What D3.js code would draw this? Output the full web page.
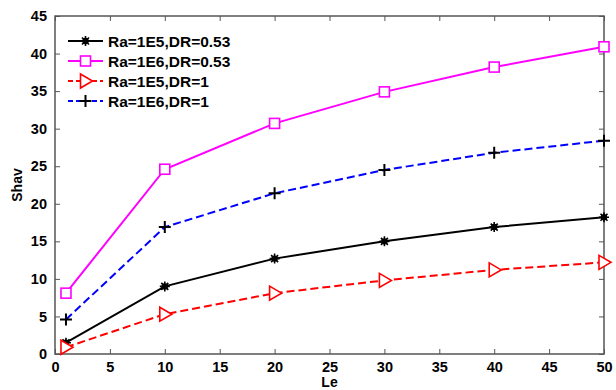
<!DOCTYPE html>
<html>
<head>
<meta charset="utf-8">
<script src="https://cdn.jsdelivr.net/npm/d3@7"></script>
<style>
  html, body { margin: 0; padding: 0; background: #fff; }
  svg text { font-family: "Liberation Sans", Arial, sans-serif; font-weight: bold; }
</style>
</head>
<body>
<svg id="chart" width="616" height="390"></svg>
<script>
// Lewis number values on the x axis
const le = [1, 10, 20, 30, 40, 50];

// Average Sherwood number for each case
const shRa1e5Dr053 = [1.5, 9.0, 12.7, 15.0, 16.9, 18.2];
const shRa1e6Dr053 = [8.1, 24.6, 30.7, 34.9, 38.2, 40.9];
const shRa1e5Dr1   = [0.9, 5.3, 8.1, 9.8, 11.2, 12.2];
const shRa1e6Dr1   = [4.6, 16.9, 21.4, 24.5, 26.8, 28.4];

const seriesNames = ["Ra=1E5,DR=0.53", "Ra=1E6,DR=0.53", "Ra=1E5,DR=1", "Ra=1E6,DR=1"];

const xTicks = [0, 5, 10, 15, 20, 25, 30, 35, 40, 45, 50];
const yTicks = [0, 5, 10, 15, 20, 25, 30, 35, 40, 45];

const series = [
  { name: seriesNames[0], values: shRa1e5Dr053, color: "#000000", dash: null, marker: "star" },
  { name: seriesNames[1], values: shRa1e6Dr053, color: "#ff00ff", dash: null, marker: "square" },
  { name: seriesNames[2], values: shRa1e5Dr1,   color: "#ff0000", dash: "8,4", marker: "triangle" },
  { name: seriesNames[3], values: shRa1e6Dr1,   color: "#0000ff", dash: "8,4", marker: "plus" }
];

const svg = d3.select("#chart");
const m = { left: 55, right: 12, top: 16, bottom: 36 };
const W = 616, H = 390;
const x = d3.scaleLinear().domain([0, 50]).range([m.left, W - m.right]);
const y = d3.scaleLinear().domain([0, 45]).range([H - m.bottom, m.top]);

const axisColor = "#555";
const tickLen = 5;

// Box around the plot area
svg.append("rect")
  .attr("x", x(0)).attr("y", y(45))
  .attr("width", x(50) - x(0)).attr("height", y(0) - y(45))
  .attr("fill", "none").attr("stroke", axisColor).attr("stroke-width", 1.5);

// Inward ticks on all four sides
function styleAxis(g) {
  g.select(".domain").remove();
  g.selectAll(".tick line").attr("stroke", axisColor).attr("stroke-width", 1);
  g.selectAll(".tick text").attr("fill", "#000").style("font-size", "14.5px");
}
svg.append("g").attr("transform", `translate(0,${y(0)})`)
  .call(d3.axisBottom(x).tickValues(xTicks).tickSizeInner(-tickLen).tickSizeOuter(0).tickPadding(8).tickFormat(d3.format("d")))
  .call(styleAxis);
svg.append("g").attr("transform", `translate(0,${y(45)})`)
  .call(d3.axisTop(x).tickValues(xTicks).tickSizeInner(-tickLen).tickSizeOuter(0).tickFormat(""))
  .call(styleAxis);
svg.append("g").attr("transform", `translate(${x(0)},0)`)
  .call(d3.axisLeft(y).tickValues(yTicks).tickSizeInner(-tickLen).tickSizeOuter(0).tickPadding(8).tickFormat(d3.format("d")))
  .call(styleAxis);
svg.append("g").attr("transform", `translate(${x(50)},0)`)
  .call(d3.axisRight(y).tickValues(yTicks).tickSizeInner(-tickLen).tickSizeOuter(0).tickFormat(""))
  .call(styleAxis);

// Axis titles
svg.append("text").attr("x", x(25)).attr("y", 387)
  .attr("text-anchor", "middle").style("font-size", "14px").text("Le");
svg.append("text").attr("transform", `translate(22,${y(22.5)}) rotate(-90)`)
  .attr("text-anchor", "middle").style("font-size", "14px").text("Shav");

// Marker drawing
function drawMarker(g, type, color, cx, cy) {
  if (type === "square") {
    g.append("rect").attr("x", cx - 5).attr("y", cy - 5).attr("width", 10).attr("height", 10)
      .attr("fill", "#fff").attr("stroke", color).attr("stroke-width", 1.6);
  } else if (type === "triangle") {
    g.append("path").attr("d", `M${cx - 5},${cy - 7}L${cx + 7},${cy}L${cx - 5},${cy + 7}Z`)
      .attr("fill", "#fff").attr("stroke", color).attr("stroke-width", 1.6);
  } else if (type === "plus") {
    g.append("path").attr("d", `M${cx - 6},${cy}H${cx + 6}M${cx},${cy - 6}V${cy + 6}`)
      .attr("stroke", "#000").attr("stroke-width", 2);
  } else if (type === "star") {
    g.append("path").attr("d", `M${cx - 5},${cy}H${cx + 5}M${cx},${cy - 5}V${cy + 5}M${cx - 3.5},${cy - 3.5}L${cx + 3.5},${cy + 3.5}M${cx - 3.5},${cy + 3.5}L${cx + 3.5},${cy - 3.5}`)
      .attr("stroke", color).attr("stroke-width", 1.6);
    g.append("circle").attr("cx", cx).attr("cy", cy).attr("r", 3.2).attr("fill", color);
  }
}

const line = d3.line().x((d, i) => x(le[i])).y(d => y(d));

series.forEach(s => {
  const g = svg.append("g");
  g.append("path").datum(s.values).attr("d", line)
    .attr("fill", "none").attr("stroke", s.color).attr("stroke-width", 2)
    .attr("stroke-dasharray", s.dash);
  s.values.forEach((v, i) => drawMarker(g, s.marker, s.color, x(le[i]), y(v)));
});

// Legend
const legend = svg.append("g");
series.forEach((s, i) => {
  const ly = 41 + i * 20;
  legend.append("line").attr("x1", 68).attr("x2", 103).attr("y1", ly).attr("y2", ly)
    .attr("stroke", s.color).attr("stroke-width", 2).attr("stroke-dasharray", s.dash ? "5,3" : null);
  drawMarker(legend, s.marker, s.color, 85.5, ly);
  legend.append("text").attr("x", 108).attr("y", ly + 5.5).style("font-size", "15.5px").text(s.name);
});
</script>
</body>
</html>
